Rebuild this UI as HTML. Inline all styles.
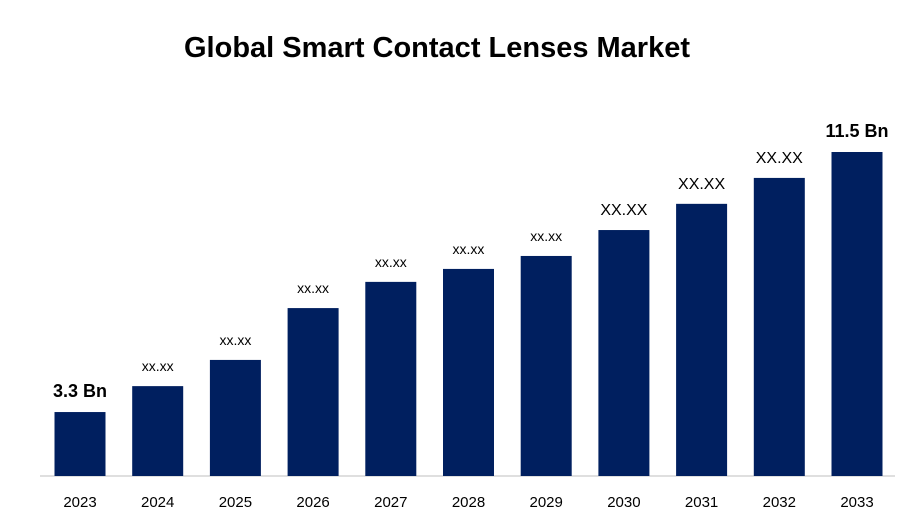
<!DOCTYPE html>
<html><head><meta charset="utf-8"><style>
body{margin:0;background:#fff;font-family:"Liberation Sans",sans-serif;}
svg{display:block}
</style></head><body>
<svg id="chart" width="900" height="525">
<text x="437" y="57" text-anchor="middle" font-size="29" font-weight="bold" fill="#000">Global Smart Contact Lenses Market</text>
<line x1="40" y1="476" x2="895" y2="476" stroke="#bfbfbf" stroke-width="1"/>
</svg>
<script>
const categories=["2023","2024","2025","2026","2027","2028","2029","2030","2031","2032","2033"];
const values=[2.27,3.19,4.12,5.96,6.89,7.35,7.81,8.73,9.66,10.58,11.5];
const labels=["3.3 Bn","xx.xx","xx.xx","xx.xx","xx.xx","xx.xx","xx.xx","XX.XX","XX.XX","XX.XX","11.5 Bn"];
const labelSizes=[18,14,14,14,14,14,14,16,16,16,18];
const labelBold=[true,false,false,false,false,false,false,false,false,false,true];
const svg=document.getElementById('chart');
const NS='http://www.w3.org/2000/svg';
const yMax=11.5, y0=476, yTop=152;
const y=v=>y0-(v/yMax)*(y0-yTop);
const x=i=>80+i*77.7;
const bw=51;
categories.forEach((c,i)=>{
  const r=document.createElementNS(NS,'rect');
  r.setAttribute('x',x(i)-bw/2);r.setAttribute('y',y(values[i]));
  r.setAttribute('width',bw);r.setAttribute('height',y0-y(values[i]));
  r.setAttribute('fill','#001f5f');
  
  
  svg.appendChild(r);
  const t=document.createElementNS(NS,'text');
  t.setAttribute('x',x(i));t.setAttribute('y',y(values[i])-15);
  t.setAttribute('text-anchor','middle');t.setAttribute('font-size',labelSizes[i]);
  if(labelBold[i])t.setAttribute('font-weight','bold');
  t.textContent=labels[i];
  
  
  svg.appendChild(t);
  const k=document.createElementNS(NS,'text');
  k.setAttribute('x',x(i));k.setAttribute('y',507);
  k.setAttribute('text-anchor','middle');k.setAttribute('font-size','15');
  k.textContent=c;
  
  
  svg.appendChild(k);
});
</script>
</body></html>
